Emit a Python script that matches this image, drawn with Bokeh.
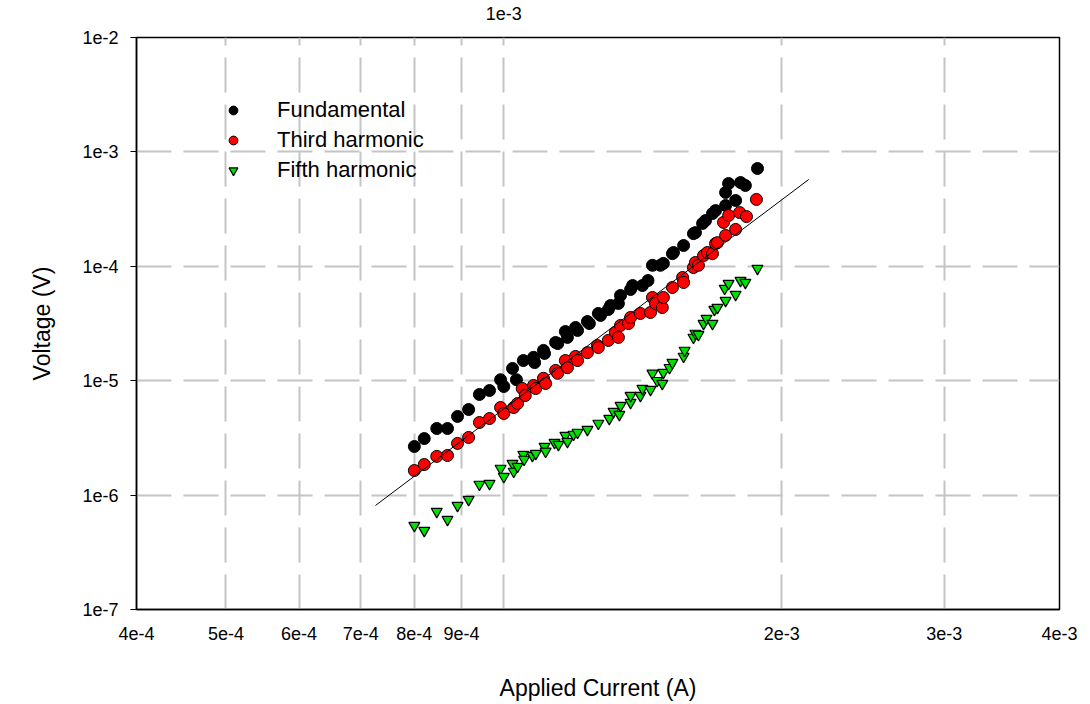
from bokeh.plotting import figure
from bokeh.models import (LogAxis, FixedTicker, CustomJSTickFormatter, Legend, LegendItem, Range1d)
from bokeh.embed import file_html
from bokeh.resources import INLINE

# ---- data ----
fund_x = [8.00e-4, 8.20e-4, 8.46e-4, 8.69e-4, 8.91e-4, 9.16e-4, 9.41e-4, 9.65e-4, 9.92e-4, 1.000e-3,
          1.022e-3, 1.032e-3, 1.050e-3, 1.077e-3, 1.080e-3, 1.104e-3, 1.107e-3, 1.138e-3, 1.144e-3, 1.166e-3,
          1.172e-3, 1.196e-3, 1.202e-3, 1.232e-3, 1.238e-3, 1.266e-3, 1.273e-3, 1.298e-3, 1.305e-3, 1.331e-3,
          1.338e-3, 1.372e-3, 1.379e-3, 1.413e-3, 1.433e-3, 1.449e-3, 1.478e-3, 1.489e-3, 1.523e-3, 1.527e-3,
          1.566e-3, 1.605e-3, 1.613e-3, 1.642e-3, 1.654e-3, 1.683e-3, 1.696e-3, 1.739e-3, 1.739e-3, 1.752e-3,
          1.783e-3, 1.805e-3, 1.827e-3, 1.883e-3]
fund_y = [2.66e-6, 3.12e-6, 3.82e-6, 3.82e-6, 4.87e-6, 5.60e-6, 7.58e-6, 8.21e-6, 1.02e-5, 8.90e-6,
          1.28e-5, 1.02e-5, 1.50e-5, 1.60e-5, 1.44e-5, 1.84e-5, 1.73e-5, 2.16e-5, 2.11e-5, 2.69e-5,
          2.39e-5, 2.92e-5, 2.75e-5, 3.29e-5, 3.16e-5, 3.87e-5, 3.72e-5, 4.19e-5, 4.54e-5, 4.73e-5,
          5.56e-5, 6.27e-5, 6.79e-5, 6.79e-5, 7.51e-5, 1.02e-4, 1.02e-4, 1.06e-4, 1.29e-4, 1.32e-4,
          1.52e-4, 1.93e-4, 1.97e-4, 2.37e-4, 2.51e-4, 2.89e-4, 3.07e-4, 3.40e-4, 4.42e-4, 5.29e-4,
          3.76e-4, 5.40e-4, 5.09e-4, 7.16e-4]

third_x = [8.00e-4, 8.20e-4, 8.46e-4, 8.69e-4, 8.91e-4, 9.16e-4, 9.41e-4, 9.65e-4, 9.92e-4, 1.000e-3,
           1.025e-3, 1.035e-3, 1.047e-3, 1.055e-3, 1.077e-3, 1.083e-3, 1.104e-3, 1.110e-3, 1.138e-3, 1.144e-3,
           1.166e-3, 1.172e-3, 1.196e-3, 1.202e-3, 1.232e-3, 1.263e-3, 1.266e-3, 1.298e-3, 1.321e-3, 1.331e-3,
           1.338e-3, 1.365e-3, 1.372e-3, 1.406e-3, 1.442e-3, 1.449e-3, 1.460e-3, 1.485e-3, 1.489e-3, 1.523e-3,
           1.562e-3, 1.566e-3, 1.605e-3, 1.613e-3, 1.625e-3, 1.646e-3, 1.662e-3, 1.683e-3, 1.696e-3, 1.704e-3,
           1.730e-3, 1.739e-3, 1.752e-3, 1.783e-3, 1.801e-3, 1.832e-3, 1.878e-3]
third_y = [1.64e-6, 1.85e-6, 2.18e-6, 2.22e-6, 2.83e-6, 3.19e-6, 4.31e-6, 4.67e-6, 5.83e-6, 5.17e-6,
           5.83e-6, 6.32e-6, 8.55e-6, 7.42e-6, 9.08e-6, 8.55e-6, 1.05e-5, 9.45e-6, 1.23e-5, 1.16e-5,
           1.50e-5, 1.30e-5, 1.63e-5, 1.50e-5, 1.76e-5, 2.03e-5, 1.95e-5, 2.25e-5, 2.64e-5, 2.39e-5,
           3.04e-5, 3.16e-5, 3.57e-5, 3.87e-5, 3.95e-5, 5.34e-5, 4.73e-5, 4.36e-5, 5.34e-5, 6.53e-5,
           7.98e-5, 7.22e-5, 9.76e-5, 1.08e-4, 1.02e-4, 1.24e-4, 1.32e-4, 1.29e-4, 1.58e-4, 1.61e-4,
           2.42e-4, 1.86e-4, 2.78e-4, 2.10e-4, 2.95e-4, 2.72e-4, 3.84e-4]

fifth_x = [8.00e-4, 8.20e-4, 8.46e-4, 8.69e-4, 8.91e-4, 9.16e-4, 9.41e-4, 9.65e-4, 9.92e-4, 1.000e-3,
           1.022e-3, 1.025e-3, 1.035e-3, 1.050e-3, 1.052e-3, 1.074e-3, 1.083e-3, 1.107e-3, 1.110e-3, 1.135e-3,
           1.146e-3, 1.166e-3, 1.172e-3, 1.190e-3, 1.202e-3, 1.232e-3, 1.266e-3, 1.301e-3, 1.315e-3, 1.334e-3,
           1.338e-3, 1.372e-3, 1.372e-3, 1.406e-3, 1.413e-3, 1.442e-3, 1.449e-3, 1.466e-3, 1.485e-3, 1.489e-3,
           1.512e-3, 1.523e-3, 1.566e-3, 1.570e-3, 1.605e-3, 1.613e-3, 1.625e-3, 1.646e-3, 1.658e-3, 1.683e-3,
           1.691e-3, 1.704e-3, 1.739e-3, 1.783e-3, 1.735e-3, 1.752e-3, 1.805e-3, 1.827e-3, 1.883e-3]
fifth_y = [5.42e-7, 4.90e-7, 7.19e-7, 6.12e-7, 8.11e-7, 9.15e-7, 1.24e-6, 1.26e-6, 1.71e-6, 1.45e-6,
           1.89e-6, 1.61e-6, 1.78e-6, 2.26e-6, 2.05e-6, 2.22e-6, 2.31e-6, 2.66e-6, 2.41e-6, 2.88e-6,
           2.77e-6, 3.32e-6, 2.94e-6, 3.39e-6, 3.53e-6, 3.74e-6, 4.23e-6, 4.67e-6, 5.38e-6, 5.06e-6,
           6.07e-6, 6.45e-6, 7.42e-6, 7.42e-6, 8.55e-6, 8.38e-6, 1.16e-5, 1.00e-5, 9.45e-6, 1.18e-5,
           1.30e-5, 1.44e-5, 1.63e-5, 1.84e-5, 2.39e-5, 2.59e-5, 2.53e-5, 3.16e-5, 3.50e-5, 3.16e-5,
           4.19e-5, 4.36e-5, 5.02e-5, 5.67e-5, 6.40e-5, 7.07e-5, 7.51e-5, 7.22e-5, 9.57e-5]

fit_x = [7.26e-4, 2.14e-3]
fit_y = [8.11e-7, 5.74e-4]

series_labels = ["Fundamental", "Third harmonic", "Fifth harmonic"]
x_ticks_bottom = [4e-4, 5e-4, 6e-4, 7e-4, 8e-4, 9e-4, 2e-3, 3e-3, 4e-3]
x_ticks_top = [1e-3]
x_grid = [5e-4, 6e-4, 7e-4, 8e-4, 9e-4, 1e-3, 2e-3, 3e-3]
y_ticks = [1e-7, 1e-6, 1e-5, 1e-4, 1e-3, 1e-2]
y_grid = [1e-6, 1e-5, 1e-4, 1e-3]
x_title = "Applied Current (A)"
y_title = "Voltage (V)"

FONT = "Liberation Sans"
fmt_code = "return tick.toExponential(0);"

p = figure(width=1090, height=704, x_axis_type="log", y_axis_type="log",
           x_range=Range1d(4e-4, 4e-3), y_range=Range1d(1e-7, 1e-2),
           output_backend="svg", toolbar_location=None,
           min_border_left=136, min_border_right=31, min_border_top=37, min_border_bottom=95)
p.background_fill_color = "white"
p.border_fill_color = "white"
p.outline_line_color = "black"
p.outline_line_width = 1.5

# grids
for g, t in ((p.xgrid[0], x_grid), (p.ygrid[0], y_grid)):
    g.ticker = FixedTicker(ticks=t)
    g.grid_line_color = "#c4c4c4"
    g.grid_line_width = 2
    g.grid_line_dash = "35 12"

# bottom axis
xa = p.xaxis[0]
xa.ticker = FixedTicker(ticks=x_ticks_bottom)
xa.formatter = CustomJSTickFormatter(code=fmt_code)
xa.axis_label = x_title
xa.axis_label_text_font = FONT
xa.axis_label_text_font_size = "23px"
xa.axis_label_text_font_style = "normal"
xa.axis_label_text_color = "black"
xa.axis_label_standoff = 32
xa.major_label_text_font = FONT
xa.major_label_text_font_size = "18px"
xa.major_label_text_color = "black"
xa.major_label_standoff = 17
xa.major_tick_out = 0
xa.major_tick_in = 0
xa.minor_tick_line_color = None
xa.axis_line_color = "black"
xa.axis_line_width = 1.5

# left axis
ya = p.yaxis[0]
ya.ticker = FixedTicker(ticks=y_ticks)
ya.formatter = CustomJSTickFormatter(code=fmt_code)
ya.axis_label = y_title
ya.axis_label_text_font = FONT
ya.axis_label_text_font_size = "23px"
ya.axis_label_text_font_style = "normal"
ya.axis_label_text_color = "black"
ya.axis_label_standoff = 24
ya.major_label_text_font = FONT
ya.major_label_text_font_size = "18px"
ya.major_label_text_color = "black"
ya.major_tick_out = 6
ya.major_tick_in = 0
ya.major_tick_line_color = "black"
ya.major_label_standoff = 12
ya.minor_tick_line_color = None
ya.axis_line_color = "black"
ya.axis_line_width = 1.5

# top axis with a single label
top = LogAxis(ticker=FixedTicker(ticks=x_ticks_top),
              formatter=CustomJSTickFormatter(code=fmt_code),
              axis_line_color=None, major_tick_line_color=None, minor_tick_line_color=None,
              major_label_text_font=FONT, major_label_text_font_size="18px",
              major_label_text_color="black", major_label_standoff=12)
p.add_layout(top, "above")

r1 = p.scatter(fund_x, fund_y, marker="circle", size=12, fill_color="black", line_color="black")
r2 = p.scatter(third_x, third_y, marker="circle", size=12, fill_color="#ff0000", line_color="black", line_width=1)
r3 = p.scatter(fifth_x, fifth_y, marker="inverted_triangle", size=11, fill_color="#00e000", line_color="black", line_width=1.2)
p.line(fit_x, fit_y, line_color="black", line_width=1)

legend = Legend(items=[LegendItem(label=series_labels[0], renderers=[r1]),
                       LegendItem(label=series_labels[1], renderers=[r2]),
                       LegendItem(label=series_labels[2], renderers=[r3])],
                location=(86, 426), border_line_color=None, background_fill_alpha=0,
                padding=0, margin=0, spacing=4, glyph_height=22, glyph_width=22,
                label_standoff=33, label_text_font=FONT, label_text_font_size="22px",
                label_text_color="black", label_height=25)
p.add_layout(legend)

open("out.html", "w").write(file_html(p, INLINE))
